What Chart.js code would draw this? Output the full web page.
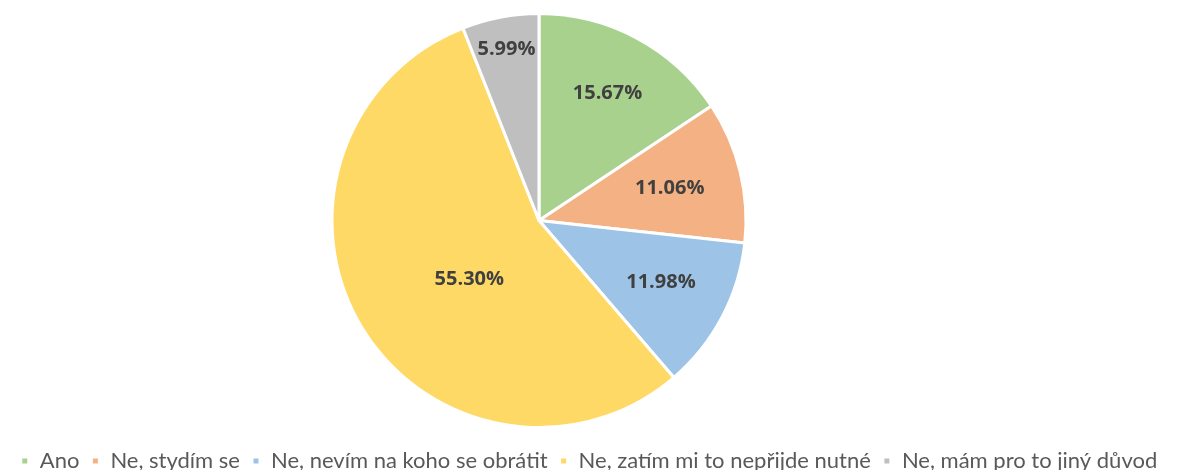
<!DOCTYPE html>
<html>
<head>
<meta charset="utf-8">
<script src="https://cdn.jsdelivr.net/npm/chart.js@4"></script>
<style>
  html, body { margin: 0; padding: 0; background: #fff; }
  #wrap { width: 1178px; height: 470px; }
</style>
</head>
<body>
<div id="wrap"><canvas id="pieChart"></canvas></div>
<script>
// --- Data ---
const categories = ['Ano', 'Ne, stydím se', 'Ne, nevím na koho se obrátit', 'Ne, zatím mi to nepřijde nutné', 'Ne, mám pro to jiný důvod'];
const shares = [15.67, 11.06, 11.98, 55.30, 5.99];
const valueLabels = ['15.67%', '11.06%', '11.98%', '55.30%', '5.99%'];

const colors = ['#A9D18E', '#F4B183', '#9DC3E6', '#FFD966', '#BFBFBF'];

// label placement like Excel's best fit: fraction of radius + small angle shift (deg)
const labelPlace = [[0.70, 0], [0.65, 0], [0.66, -1], [0.44, -9], [0.84, 0]];

const sliceLabels = {
    id: 'sliceLabels',
    afterDatasetsDraw(chart) {
        const ctx = chart.ctx;
        const arcs = chart.getDatasetMeta(0).data;
        ctx.save();
        ctx.font = 'bold 20px "Open Sans"';
        ctx.fillStyle = '#404040';
        ctx.textAlign = 'center';
        ctx.textBaseline = 'middle';
        arcs.forEach((arc, i) => {
            const p = arc.getProps(['x', 'y', 'startAngle', 'endAngle', 'outerRadius'], true);
            const [frac, shift] = labelPlace[i];
            const a = (p.startAngle + p.endAngle) / 2 + shift * Math.PI / 180;
            const r = p.outerRadius * frac;
            ctx.fillText(valueLabels[i], p.x + Math.cos(a) * r, p.y + Math.sin(a) * r);
        });
        ctx.restore();
    }
};

// keep the pie where Excel put it: left of the page centre, fixed height
const pieArea = {
    id: 'pieArea',
    afterLayout(chart) {
        const a = chart.chartArea;
        a.top = 12;
        a.bottom = 429;
        a.height = a.bottom - a.top;
        a.right -= 100;
        a.width = a.right - a.left;
    }
};

new Chart(document.getElementById('pieChart'), {
    type: 'pie',
    data: {
        labels: categories,
        datasets: [{
            data: shares,
            backgroundColor: colors,
            borderColor: '#ffffff',
            borderWidth: 3
        }]
    },
    options: {
        responsive: true, maintainAspectRatio: false,
        animation: false,
        layout: { padding: { top: 0, bottom: -12, left: 0, right: 0 } },
        plugins: {
            tooltip: { enabled: false },
            legend: {
                position: 'bottom',
                labels: {
                    boxWidth: 8, boxHeight: 8,
                    color: '#595959',
                    font: { family: 'Lato', size: 22 },
                    padding: 12
                }
            }
        }
    },
    plugins: [sliceLabels, pieArea]
});
</script>
</body>
</html>
